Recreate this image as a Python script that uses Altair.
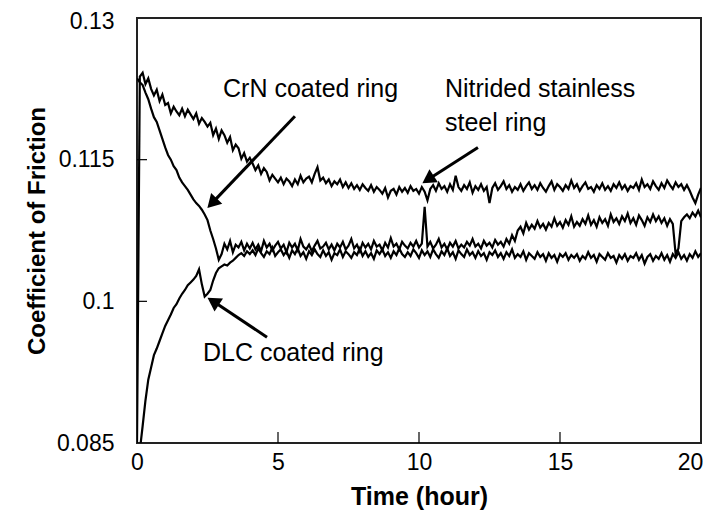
import altair as alt
import pandas as pd

# Time grid (hours), sampled every 0.1 h
hours = [round(i * 0.1, 1) for i in range(201)]

# Coefficient of friction, in units of 1e-4
nitrided = [850,
    1238, 1242, 1230, 1236, 1225, 1218, 1224, 1212, 1219, 1208,
    1210, 1199, 1206, 1201, 1197, 1204, 1196, 1203, 1198, 1193,
    1199, 1188, 1194, 1190, 1185, 1189, 1176, 1183, 1172, 1181,
    1176, 1168, 1174, 1160, 1166, 1162, 1151, 1157, 1148, 1152,
    1146, 1139, 1144, 1135, 1141, 1137, 1128, 1134, 1130, 1126,
    1131, 1124, 1130, 1127, 1122, 1129, 1124, 1133, 1126, 1130,
    1132, 1126, 1135, 1142, 1128, 1131, 1125, 1129, 1122, 1127,
    1124, 1129, 1121, 1126, 1120, 1125, 1119, 1123, 1118, 1124,
    1120, 1117, 1123, 1116, 1121, 1118, 1114, 1120, 1110, 1117,
    1119, 1113, 1121, 1116, 1120, 1115, 1122, 1117, 1119, 1114,
    1121, 1116, 1107, 1119, 1123, 1117, 1125, 1119, 1122, 1116,
    1124, 1118, 1133, 1121, 1117, 1123, 1119, 1126, 1115, 1122,
    1118, 1124, 1117, 1121, 1104, 1120, 1125, 1118, 1122, 1127,
    1119, 1123, 1116, 1121, 1118, 1124, 1117, 1122, 1126, 1119,
    1123, 1118, 1125, 1120, 1116, 1122, 1127, 1118, 1124, 1121,
    1117, 1123, 1119, 1128, 1120, 1124, 1117, 1122, 1126, 1119,
    1121, 1116, 1123, 1119, 1125, 1118, 1122, 1117, 1124, 1120,
    1126, 1119, 1123, 1117, 1122, 1120, 1125, 1118, 1129, 1121,
    1124, 1119, 1127, 1122, 1118, 1125, 1120, 1128, 1123, 1119,
    1126, 1121, 1124, 1118, 1123, 1117, 1110, 1104, 1113, 1120]

crn = [1236,
    1232, 1229, 1221, 1214, 1204, 1195, 1190, 1181, 1172, 1163,
    1155, 1150, 1143, 1139, 1131, 1126, 1122, 1118, 1113, 1108,
    1104, 1101, 1097, 1092, 1086, 1075, 1066, 1056, 1044, 1050,
    1061, 1055, 1064, 1052, 1060, 1057, 1063, 1054, 1061, 1056,
    1062, 1055, 1060, 1053, 1064, 1057, 1061, 1054, 1059, 1063,
    1056, 1060, 1052, 1062, 1057, 1061, 1054, 1066, 1058, 1055,
    1060, 1053, 1059, 1064, 1056, 1058, 1062, 1055, 1060, 1054,
    1061, 1057, 1063, 1055, 1059, 1066, 1056, 1060, 1053, 1062,
    1057, 1061, 1055, 1064, 1058, 1060, 1054, 1062, 1057, 1067,
    1058, 1061, 1055, 1063, 1059, 1056, 1062, 1058, 1064, 1057,
    1061, 1100, 1058, 1063, 1056, 1060, 1066, 1057, 1061, 1055,
    1062, 1058, 1064, 1056, 1060, 1057, 1063, 1059, 1066, 1058,
    1061, 1056, 1064, 1059, 1062, 1057, 1065, 1060, 1063, 1058,
    1066, 1061, 1070, 1064, 1075, 1079, 1072, 1083, 1076, 1081,
    1077, 1085, 1078, 1082, 1076, 1083, 1079, 1088, 1080, 1084,
    1078, 1086, 1081, 1090, 1079, 1084, 1080, 1087, 1082, 1091,
    1081, 1086, 1079, 1089, 1083, 1087, 1080, 1092, 1084, 1088,
    1082, 1090, 1085, 1093, 1083, 1088, 1081, 1091, 1086, 1080,
    1089, 1084, 1092, 1085, 1090, 1083, 1088, 1080, 1087, 1082,
    1050, 1056, 1085, 1089, 1092, 1088, 1094, 1090, 1096, 1089]

dlc = [820,
    842, 868, 895, 917, 930, 943, 950, 958, 966, 974,
    980, 986, 993, 997, 1003, 1008, 1012, 1017, 1020, 1023,
    1027, 1034, 1018, 1005, 1008, 1012, 1022, 1030, 1035, 1037,
    1039, 1038, 1041, 1043, 1046, 1049, 1051, 1048, 1053, 1050,
    1054, 1049, 1056, 1051, 1047, 1053, 1050, 1057, 1048, 1052,
    1055, 1049, 1053, 1046, 1054, 1050, 1056, 1048, 1052, 1045,
    1053, 1049, 1055, 1050, 1047, 1054, 1048, 1052, 1044, 1051,
    1049, 1055, 1047, 1053, 1050, 1046, 1052, 1049, 1056, 1048,
    1053, 1047, 1051, 1045, 1054, 1050, 1055, 1048, 1052, 1046,
    1053, 1049, 1056, 1050, 1047, 1052, 1048, 1055, 1051, 1046,
    1054, 1049, 1053, 1047, 1055, 1050, 1046, 1053, 1049, 1056,
    1048, 1052, 1045, 1054, 1050, 1047, 1055, 1049, 1052, 1046,
    1053, 1048, 1051, 1044, 1052, 1049, 1054, 1047, 1051, 1045,
    1052, 1048, 1055, 1046, 1050, 1047, 1053, 1044, 1051, 1048,
    1045, 1052, 1047, 1050, 1043, 1051, 1046, 1049, 1042, 1050,
    1047, 1051, 1044, 1049, 1046, 1050, 1043, 1048, 1045, 1052,
    1046, 1049, 1042, 1050, 1047, 1044, 1051, 1046, 1048, 1041,
    1049, 1045, 1050, 1043, 1048, 1046, 1051, 1044, 1049, 1040,
    1047, 1050, 1043, 1048, 1045, 1051, 1044, 1049, 1042, 1050,
    1046, 1052, 1045, 1049, 1043, 1050, 1046, 1053, 1047, 1051]

series_names = ["Nitrided stainless steel ring", "CrN coated ring", "DLC coated ring"]

x_ticks = [0, 5, 10, 15, 20]
y_ticks = [0.085, 0.1, 0.115, 0.13]

# Annotation texts
ann_text = ["CrN coated ring", "Nitrided stainless", "steel ring", "DLC coated ring"]
ann_t = [3.05, 10.92, 10.92, 2.34]
ann_v = [0.1216, 0.1216, 0.1180, 0.0937]

# Arrows: tail -> head (head = centre of arrowhead)
arr_t = [5.60, 12.09, 4.61]
arr_v = [0.1196, 0.1163, 0.0962]
arr_t2 = [2.66, 10.32, 2.70]
arr_v2 = [0.1104, 0.1129, 0.1000]
arr_angle = [224, 237, 303]

FONT = "Liberation Sans"
W, H = 564, 425

rows = []
for name, vals in zip(series_names, [nitrided, crn, dlc]):
    for t, v in zip(hours, vals):
        rows.append({"series": name, "t": t, "v": v / 10000})
df = pd.DataFrame(rows)

xs = alt.Scale(domain=[0, 20], nice=False, zero=False)
ys = alt.Scale(domain=[0.085, 0.13], nice=False, zero=False)

x_axis = alt.Axis(values=x_ticks, title="Time (hour)", ticks=False, tickSize=0,
                  domain=False, grid=False, labelFontSize=23, labelFont=FONT,
                  labelColor="black", labelPadding=8, titleFont=FONT,
                  titleFontSize=25, titleFontWeight="bold", titleColor="black",
                  titlePadding=10, labelFlush=False,
                  labelOffset={"condition": {"test": "datum.value == 20", "value": -11},
                               "value": 0})
y_axis = alt.Axis(values=y_ticks, title="Coefficient of Friction", format=".3~f",
                  ticks=False, tickSize=0, domain=False, grid=False,
                  labelFontSize=23, labelFont=FONT, labelColor="black",
                  labelPadding=23, titleFont=FONT, titleFontSize=24,
                  titleFontWeight="bold", titleColor="black", titlePadding=7,
                  labelFlush=False,
                  labelOffset={"condition": {"test": "datum.value == 0.13", "value": 3},
                               "value": 0})


def X(field):
    return alt.X(field, scale=xs, axis=x_axis, title="Time (hour)")


def Y(field):
    return alt.Y(field, scale=ys, axis=y_axis, title="Coefficient of Friction")


lines = alt.Chart(df).mark_line(clip=True, strokeWidth=2.2, color="black").encode(
    x=X("t:Q"), y=Y("v:Q"), detail="series:N", order="t:Q",
)

xtick_df = pd.DataFrame({"t": [5, 10, 15]})
xt = alt.Chart(xtick_df).mark_rule(color="black", strokeWidth=1.2).encode(
    x=X("t:Q"), y=alt.value(H - 11), y2=alt.value(H),
)
ytick_df = pd.DataFrame({"v": [0.1, 0.115]})
yt = alt.Chart(ytick_df).mark_rule(color="black", strokeWidth=1.2).encode(
    y=Y("v:Q"), x=alt.value(0), x2=alt.value(10),
)

text_df = pd.DataFrame({"t": ann_t, "v": ann_v, "label": ann_text})
texts = alt.Chart(text_df).mark_text(align="left", baseline="alphabetic",
                                     font=FONT, fontSize=25, color="black").encode(
    x=X("t:Q"), y=Y("v:Q"), text="label:N",
)

arr_df = pd.DataFrame({"t": arr_t, "v": arr_v, "t2": arr_t2, "v2": arr_v2, "ang": arr_angle})
shafts = alt.Chart(arr_df).mark_rule(color="black", strokeWidth=3).encode(
    x=X("t:Q"), y=Y("v:Q"), x2="t2:Q", y2="v2:Q",
)
heads = alt.Chart(arr_df).mark_point(shape="triangle-up", filled=True, size=240,
                                      color="black", opacity=1).encode(
    x=X("t2:Q"), y=Y("v2:Q"),
    angle=alt.Angle("ang:Q", scale=None),
)

chart = alt.layer(lines, xt, yt, shafts, heads, texts).properties(
    width=W, height=H,
    autosize=alt.AutoSizeParams(type="none"),
    padding={"left": 129, "top": 10, "right": 2, "bottom": 70},
).configure(
    background="white",
    view=alt.ViewConfig(stroke="#222", strokeWidth=2),
)

chart.save("out.html", embed_options={"renderer": "svg", "actions": False})
